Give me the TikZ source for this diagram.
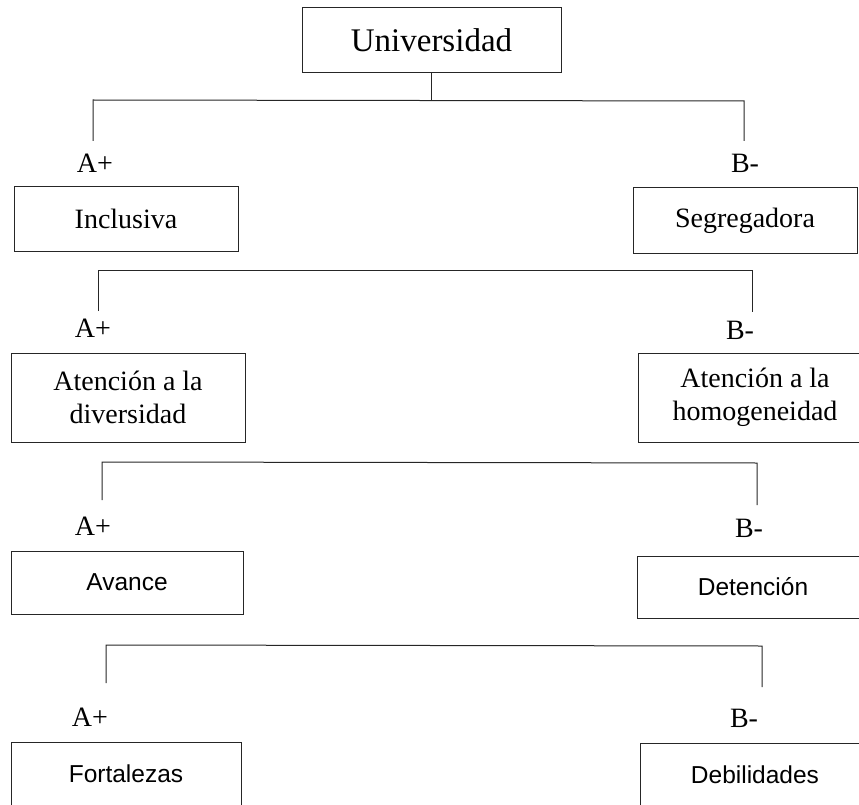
\documentclass[tikz,border=0pt]{standalone}
\usepackage{fontspec}
\setmainfont{Liberation Serif}
\setsansfont{Liberation Sans}
\usetikzlibrary{positioning}

\tikzset{
  box/.style={draw=black!85, line width=1pt, rectangle, inner sep=0pt, align=center, font=\fontsize{28}{33}\selectfont},
  sansbox/.style={box, font=\sffamily\fontsize{24.5}{29}\selectfont},
  sign/.style={inner sep=0pt, font=\fontsize{28}{33}\selectfont},
  bar/.style={draw=black!85, line width=1pt}
}

\begin{document}
\begin{tikzpicture}[x=1pt, y=-1pt]
\useasboundingbox (0,0) rectangle (859,805);
\clip (0,0) rectangle (859,805);

% Root
\node[box, minimum width=259, minimum height=65, font=\fontsize{33}{40}\selectfont] (uni) at (431.5,40.5) {Universidad};

% First level
\node[sign] (pos1) at (95,163) {A+};
\node[sign] (neg1) at (745,163) {B-};
\node[box, minimum width=224, minimum height=64] (inc) at (126,219) {Inclusiva};
\node[box, minimum width=224, minimum height=65] (seg) at (745,220.5) {Segregadora};

% Second level
\node[sign] (pos2) at (93,328) {A+};
\node[sign] (neg2) at (740,330) {B-};
\node[box, minimum width=234, minimum height=89] (div) at (128,397.5) {Atención a la\\diversidad};
\node[box, minimum width=234, minimum height=89] (hom) at (755,397.5) {Atención a la\\homogeneidad};

% Third level
\node[sign] (pos3) at (93,526) {A+};
\node[sign] (neg3) at (749,528) {B-};
\node[sansbox, minimum width=232, minimum height=63] (ava) at (127,582.5) {Avance};
\node[sansbox, minimum width=232, minimum height=62] (det) at (753,587) {Detención};

% Fourth level
\node[sign] (pos4) at (90,717) {A+};
\node[sign] (neg4) at (744,718) {B-};
\node[sansbox, minimum width=230, minimum height=63] (fort) at (126,773.5) {Fortalezas};
\node[sansbox, minimum width=230, minimum height=63] (deb) at (755,774.5) {Debilidades};

% Bar corners and ends
\coordinate (s1) at (427,100);
\coordinate (t1a) at (93,100);   \coordinate (e1a) at (93,141);
\coordinate (t1b) at (744,101);  \coordinate (e1b) at (744,141);
\coordinate (t2a) at (98,270);   \coordinate (e2a) at (98,311);
\coordinate (t2b) at (752,270);  \coordinate (e2b) at (752,312);
\coordinate (t3a) at (102,462);  \coordinate (e3a) at (102,500);
\coordinate (t3b) at (757,463);  \coordinate (e3b) at (757,505);
\coordinate (t4a) at (106,645);  \coordinate (e4a) at (106,683);
\coordinate (t4b) at (762,646);  \coordinate (e4b) at (762,687);

% Bars
\draw[bar] (uni.south) -- (uni.south |- s1);
\draw[bar] (e1a) -- (t1a) -- (t1b) -- (e1b);
\draw[bar] (e2a) -- (t2a) -- (t2b) -- (e2b);
\draw[bar] (e3a) -- (t3a) -- (t3b) -- (e3b);
\draw[bar] (e4a) -- (t4a) -- (t4b) -- (e4b);

\end{tikzpicture}
\end{document}
